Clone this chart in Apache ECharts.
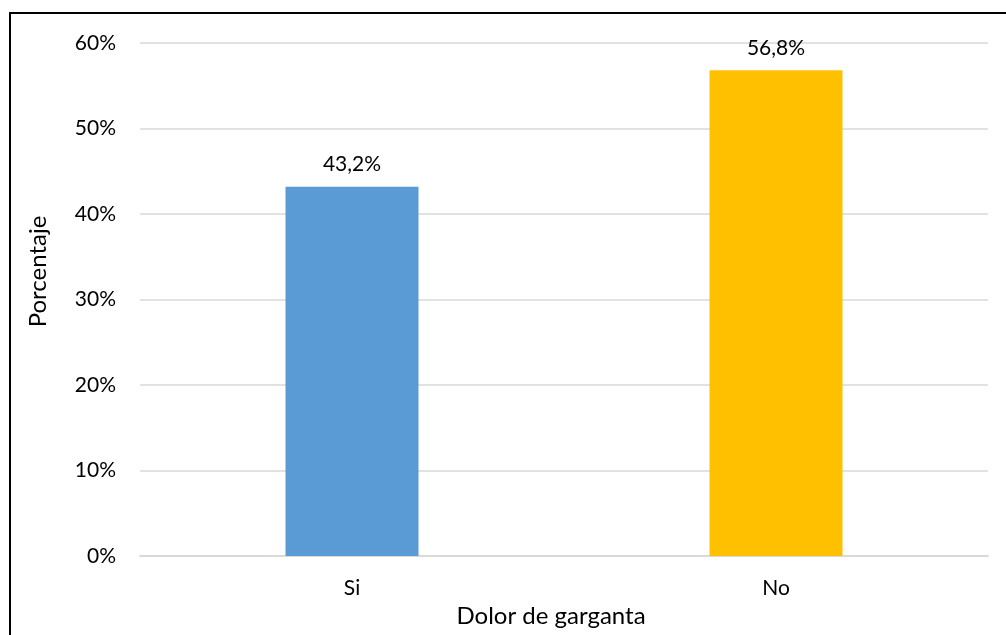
<!DOCTYPE html>
<html>
<head>
<meta charset="utf-8">
<script src="https://cdn.jsdelivr.net/npm/echarts@6/dist/echarts.min.js"></script>
<style>
  html, body { margin: 0; padding: 0; background: #fff; }
  #chart { width: 1006px; height: 635px; }
</style>
</head>
<body>
<div id="chart"></div>
<script>
// Sore throat responses (percentage of respondents)
const categories = ['Si', 'No'];
const percentages = [43.2, 56.8];
const barColors = ['#5B9BD5', '#FFC000'];
const yTicks = [0, 10, 20, 30, 40, 50, 60];

const FONT = 'Lato, "Open Sans", sans-serif';
const fmt = v => String(v).replace('.', ',') + '%';

const chart = echarts.init(document.getElementById('chart'), null, { renderer: 'canvas' });
chart.setOption({
  backgroundColor: '#ffffff',
  animation: false,
  graphic: [{
    type: 'rect',
    shape: { x: 10, y: 13, width: 1020, height: 660 },
    style: { fill: 'none', stroke: '#000000', lineWidth: 2 },
    silent: true
  }],
  grid: { left: 140, right: 18, top: 43, bottom: 79, containLabel: false },
  xAxis: {
    type: 'category',
    data: categories,
    name: 'Dolor de garganta',
    nameLocation: 'middle',
    nameGap: 46,
    nameTextStyle: { fontFamily: FONT, fontSize: 24, color: '#000', padding: [0, 26, 0, 0] },
    axisLine: { show: true, lineStyle: { color: '#d9d9d9', width: 2 } },
    axisTick: { show: false },
    axisLabel: { fontFamily: FONT, fontSize: 21, color: '#000', margin: 22 }
  },
  yAxis: {
    type: 'value',
    min: yTicks[0],
    max: yTicks[yTicks.length - 1],
    interval: 10,
    name: 'Porcentaje',
    nameLocation: 'middle',
    nameGap: 90,
    nameRotate: 90,
    nameTextStyle: { fontFamily: FONT, fontSize: 24, color: '#000', padding: [0, 0, 0, 56] },
    axisLine: { show: false },
    axisTick: { show: false },
    axisLabel: { fontFamily: FONT, fontSize: 21, color: '#000', margin: 24, formatter: v => v + '%' },
    splitLine: { lineStyle: { color: '#d9d9d9', width: 1.5 } }
  },
  series: [{
    type: 'bar',
    barWidth: 133,
    data: percentages.map((v, i) => ({ value: v, itemStyle: { color: barColors[i] } })),
    label: {
      show: true,
      position: 'top',
      distance: 12,
      fontFamily: FONT,
      fontSize: 21,
      color: '#000',
      formatter: p => fmt(p.value)
    }
  }]
});
</script>
</body>
</html>
